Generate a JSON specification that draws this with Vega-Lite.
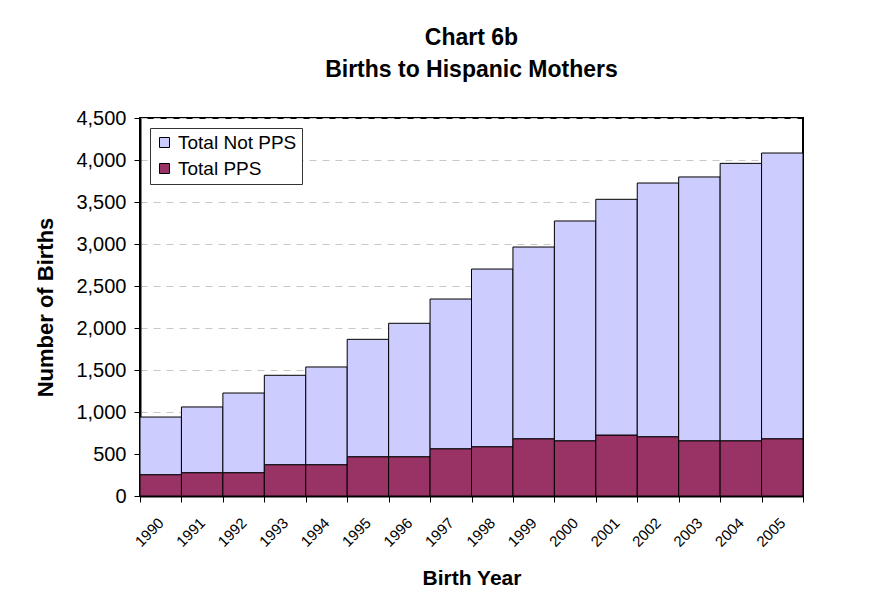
{
  "$schema": "https://vega.github.io/schema/vega-lite/v6.json",
  "width": 663,
  "height": 378,
  "autosize": {"type": "none"},
  "padding": {"left": 140, "top": 118, "right": 70, "bottom": 110},
  "background": "white",
  "config": {
    "font": "Liberation Sans",
    "view": {"stroke": "black", "strokeWidth": 2}
  },
  "title": {
    "text": ["Chart 6b", "Births to Hispanic Mothers"],
    "fontSize": 23,
    "fontWeight": "bold",
    "font": "Liberation Sans",
    "color": "black",
    "lineHeight": 32,
    "offset": 26,
    "anchor": "middle"
  },
  "data": {
    "values": [
      {"year": "1990", "series": "Total PPS", "ord": 0, "births": 254},
      {"year": "1990", "series": "Total Not PPS", "ord": 1, "births": 686},
      {"year": "1991", "series": "Total PPS", "ord": 0, "births": 278},
      {"year": "1991", "series": "Total Not PPS", "ord": 1, "births": 782},
      {"year": "1992", "series": "Total PPS", "ord": 0, "births": 278},
      {"year": "1992", "series": "Total Not PPS", "ord": 1, "births": 948},
      {"year": "1993", "series": "Total PPS", "ord": 0, "births": 373},
      {"year": "1993", "series": "Total Not PPS", "ord": 1, "births": 1064},
      {"year": "1994", "series": "Total PPS", "ord": 0, "births": 373},
      {"year": "1994", "series": "Total Not PPS", "ord": 1, "births": 1163},
      {"year": "1995", "series": "Total PPS", "ord": 0, "births": 468},
      {"year": "1995", "series": "Total Not PPS", "ord": 1, "births": 1397},
      {"year": "1996", "series": "Total PPS", "ord": 0, "births": 468},
      {"year": "1996", "series": "Total Not PPS", "ord": 1, "births": 1588},
      {"year": "1997", "series": "Total PPS", "ord": 0, "births": 563},
      {"year": "1997", "series": "Total Not PPS", "ord": 1, "births": 1782},
      {"year": "1998", "series": "Total PPS", "ord": 0, "births": 587},
      {"year": "1998", "series": "Total Not PPS", "ord": 1, "births": 2115},
      {"year": "1999", "series": "Total PPS", "ord": 0, "births": 682},
      {"year": "1999", "series": "Total Not PPS", "ord": 1, "births": 2282},
      {"year": "2000", "series": "Total PPS", "ord": 0, "births": 658},
      {"year": "2000", "series": "Total Not PPS", "ord": 1, "births": 2616},
      {"year": "2001", "series": "Total PPS", "ord": 0, "births": 726},
      {"year": "2001", "series": "Total Not PPS", "ord": 1, "births": 2806},
      {"year": "2002", "series": "Total PPS", "ord": 0, "births": 706},
      {"year": "2002", "series": "Total Not PPS", "ord": 1, "births": 3020},
      {"year": "2003", "series": "Total PPS", "ord": 0, "births": 658},
      {"year": "2003", "series": "Total Not PPS", "ord": 1, "births": 3140},
      {"year": "2004", "series": "Total PPS", "ord": 0, "births": 658},
      {"year": "2004", "series": "Total Not PPS", "ord": 1, "births": 3302},
      {"year": "2005", "series": "Total PPS", "ord": 0, "births": 682},
      {"year": "2005", "series": "Total Not PPS", "ord": 1, "births": 3401}
    ]
  },
  "mark": {"type": "bar", "stroke": "black", "strokeWidth": 1},
  "encoding": {
    "x": {
      "field": "year",
      "type": "ordinal",
      "scale": {"paddingInner": 0, "paddingOuter": 0},
      "axis": {
        "title": "Birth Year",
        "titleFontSize": 21,
        "titleFontWeight": "bold",
        "titleColor": "black",
        "titlePadding": 18,
        "labelAngle": -45,
        "labelAlign": "right",
        "labelBaseline": "middle",
        "labelFontSize": 15,
        "labelColor": "black",
        "labelPadding": 18,
        "tickBand": "extent",
        "tickColor": "black",
        "tickSize": 6,
        "domainColor": "black",
        "domainWidth": 2
      }
    },
    "y": {
      "field": "births",
      "type": "quantitative",
      "aggregate": "sum",
      "stack": "zero",
      "scale": {"domain": [0, 4500]},
      "axis": {
        "title": "Number of Births",
        "titleFontSize": 22,
        "titleFontWeight": "bold",
        "titleColor": "black",
        "titlePadding": 18,
        "values": [0, 500, 1000, 1500, 2000, 2500, 3000, 3500, 4000, 4500],
        "format": ",d",
        "labelFontSize": 20,
        "labelColor": "black",
        "labelPadding": 8,
        "tickColor": "black",
        "tickSize": 6,
        "domainColor": "black",
        "domainWidth": 2,
        "grid": true,
        "gridColor": "#c8c8c8",
        "gridDash": [7, 6],
        "gridWidth": 1
      }
    },
    "color": {
      "field": "series",
      "type": "nominal",
      "scale": {"domain": ["Total Not PPS", "Total PPS"], "range": ["#CCCCFF", "#993366"]},
      "legend": {
        "title": null,
        "orient": "top-left",
        "offset": 10,
        "direction": "vertical",
        "fillColor": "white",
        "strokeColor": "#333333",
        "padding": 5,
        "labelFontSize": 19,
        "labelColor": "black",
        "symbolType": "square",
        "symbolSize": 100,
        "symbolStrokeColor": "black",
        "symbolStrokeWidth": 1,
        "symbolOpacity": 1,
        "rowPadding": 6,
        "labelOffset": 4
      }
    },
    "order": {"field": "ord", "type": "quantitative"}
  }
}
